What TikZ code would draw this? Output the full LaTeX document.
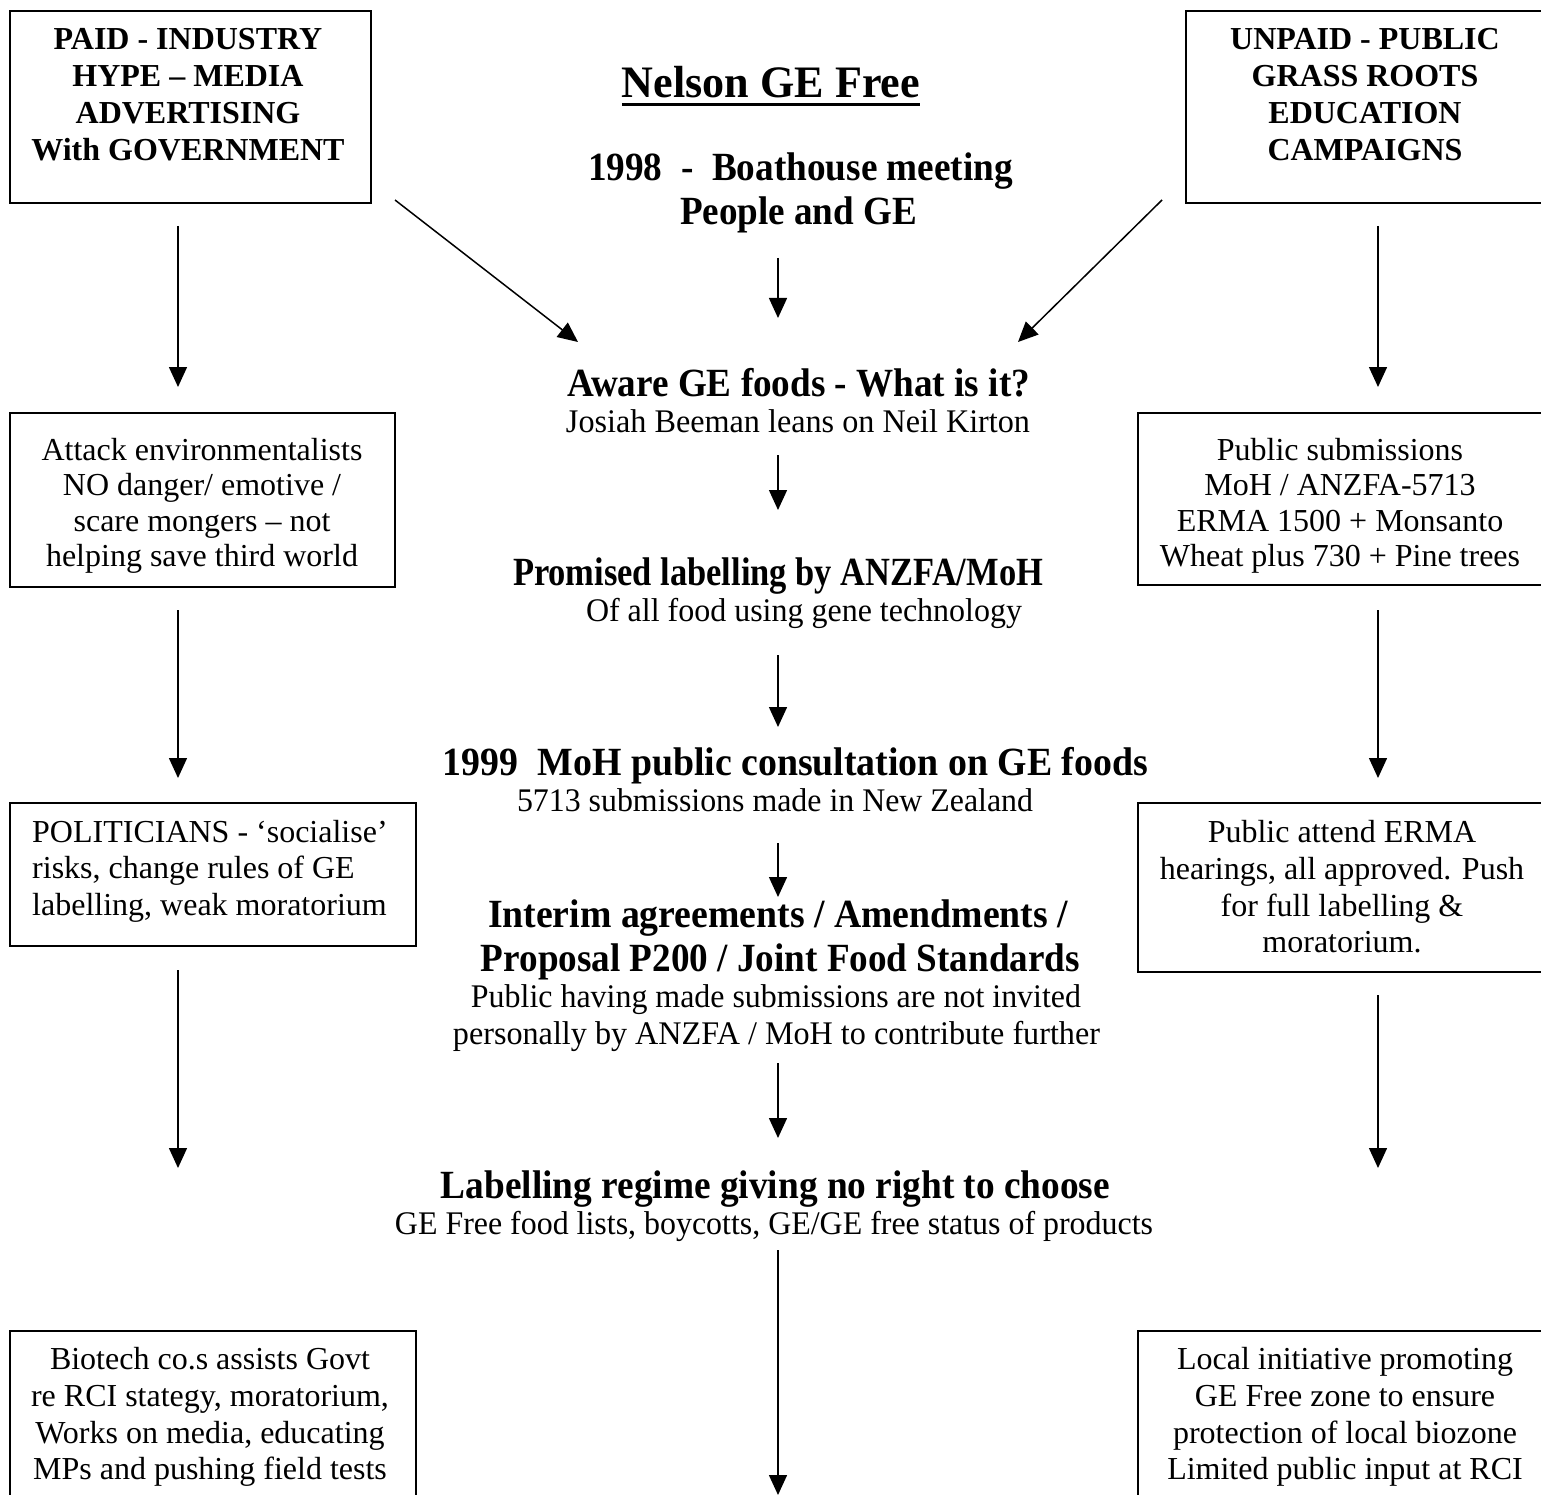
\documentclass[tikz,border=0pt]{standalone}
\usepackage{fontspec}
\setmainfont{Liberation Serif}
\usepackage{graphicx}
\usetikzlibrary{arrows.meta}
\newcommand\hfit[2]{\resizebox{#1}{\height}{#2}}
\begin{document}
\begin{tikzpicture}[x=1pt,y=-1pt,
  boxn/.style={draw, line width=1.8pt, inner sep=0pt, anchor=north west},
  bt/.style={anchor=base, inner sep=0pt, font=\fontsize{32}{36}\selectfont\bfseries},
  rt/.style={anchor=base, inner sep=0pt, font=\fontsize{32}{36}\selectfont},
  rtl/.style={anchor=base west, inner sep=0pt, font=\fontsize{32}{36}\selectfont},
  cb/.style={anchor=base, inner sep=0pt, font=\fontsize{40}{44}\selectfont\bfseries},
  cr/.style={anchor=base, inner sep=0pt, font=\fontsize{33}{37}\selectfont},
  arr/.style={-{Triangle[length=20pt,width=18pt]}, line width=1.5pt}]
\useasboundingbox (0,0) rectangle (1541,1495);
\clip (0,0) rectangle (1541,1495);
\fill[white] (0,0) rectangle (1541,1495);

% ---- boxes ----
\node[boxn, minimum width=361pt, minimum height=192pt] (tlbox) at (9,10) {};
\node[boxn, minimum width=420pt, minimum height=192pt] (trbox) at (1185,10) {};
\node[boxn, minimum width=385pt, minimum height=174pt] (attbox) at (9,412) {};
\node[boxn, minimum width=450pt, minimum height=172pt] (subbox) at (1137,412) {};
\node[boxn, minimum width=406pt, minimum height=143pt] (polbox) at (9,802) {};
\node[boxn, minimum width=450pt, minimum height=169pt] (ermabox) at (1137,802) {};
\node[boxn, minimum width=406pt, minimum height=250pt] (biobox) at (9,1330) {};
\node[boxn, minimum width=450pt, minimum height=250pt] (locbox) at (1137,1330) {};

% ---- top-left box text ----
\node[bt] (tl1) at (188,50) {PAID - INDUSTRY};
\node[bt] (tl2) at (188,87) {HYPE – MEDIA};
\node[bt] (tl3) at (188,124) {ADVERTISING};
\node[bt] (tl4) at (188,161) {With GOVERNMENT};

% ---- top-right box text ----
\node[bt] (tr1) at (1365,50) {UNPAID - PUBLIC};
\node[bt] (tr2) at (1365,87) {GRASS ROOTS};
\node[bt] (tr3) at (1365,124) {EDUCATION};
\node[bt] (tr4) at (1365,161) {CAMPAIGNS};

% ---- left column ----
\node[rt] (at1) at (202,460) {Attack environmentalists};
\node[rt] (at2) at (202,495.5) {NO danger/ emotive /};
\node[rt] (at3) at (202,531) {scare mongers – not};
\node[rt] (at4) at (202,566.5) {helping save third world};

\node[rtl] (po1) at (32,842) {POLITICIANS - ‘socialise’};
\node[rtl] (po2) at (32,878.5) {risks, change rules of GE};
\node[rtl] (po3) at (32,915) {labelling, weak moratorium};

\node[rt] (bi1) at (210,1369) {Biotech co.s assists Govt};
\node[rt] (bi2) at (210,1406) {re RCI stategy, moratorium,};
\node[rt] (bi3) at (210,1443) {Works on media, educating};
\node[rt] (bi4) at (210,1479) {MPs and pushing field tests};

% ---- right column ----
\node[rt] (su1) at (1340,460) {Public submissions};
\node[rt] (su2) at (1340,495.5) {MoH / ANZFA-5713};
\node[rt] (su3) at (1340,531) {ERMA 1500 + Monsanto};
\node[rt] (su4) at (1340,566.5) {Wheat plus 730 + Pine trees};

\node[rt] (er1) at (1342,842) {Public attend ERMA};
\node[rt] (er2) at (1342,879) {hearings, all approved. Push};
\node[rt] (er3) at (1342,916) {for full labelling \&};
\node[rt] (er4) at (1342,952) {moratorium.};

\node[rt] (lo1) at (1345,1369) {Local initiative promoting};
\node[rt] (lo2) at (1345,1406) {GE Free zone to ensure};
\node[rt] (lo3) at (1345,1443) {protection of local biozone};
\node[rt] (lo4) at (1345,1479) {Limited public input at RCI};

% ---- centre column ----
\node[anchor=base, inner sep=0pt, font=\fontsize{45}{50}\selectfont\bfseries] (title) at (771,98) {\hfit{298pt}{Nelson GE Free}};
\draw[line width=3pt] ([yshift=-7pt]title.base west) -- ([yshift=-7pt]title.base east);
\node[cb] (c1a) at (800.5,181) {\hfit{425pt}{1998\ \ -\ \ Boathouse meeting}};
\node[cb] (c1b) at (798.5,225) {\hfit{237pt}{People and GE}};
\node[cb] (c2a) at (798.5,396) {\hfit{463pt}{Aware GE foods - What is it?}};
\node[cr] (c2b) at (798,432) {\hfit{464pt}{Josiah Beeman leans on Neil Kirton}};
\node[cb] (c3a) at (778,585) {\hfit{530pt}{Promised labelling by ANZFA/MoH}};
\node[cr] (c3b) at (804,621) {\hfit{436pt}{Of all food using gene technology}};
\node[cb] (c4a) at (795.5,775) {\hfit{705pt}{1999\ \ MoH public consultation on GE foods}};
\node[cr] (c4b) at (775,811) {\hfit{516pt}{5713 submissions made in New Zealand}};
\node[cb] (c5a) at (778,927) {\hfit{580pt}{Interim agreements / Amendments /}};
\node[cb] (c5b) at (780.5,971) {\hfit{599pt}{Proposal P200 / Joint Food Standards}};
\node[cr] (c5c) at (776,1007) {\hfit{610pt}{Public having made submissions are not invited}};
\node[cr] (c5d) at (776.5,1044) {\hfit{647pt}{personally by ANZFA / MoH to contribute further}};
\node[cb] (c6a) at (775.5,1198) {\hfit{669pt}{Labelling regime giving no right to choose}};
\node[cr] (c6b) at (774,1234) {\hfit{758pt}{GE Free food lists, boycotts, GE/GE free status of products}};

% ---- arrow end points ----
\coordinate (l1s) at (178,226);  \coordinate (l1e) at (178,387);
\coordinate (l2s) at (178,610);  \coordinate (l2e) at (178,778);
\coordinate (l3s) at (178,970);  \coordinate (l3e) at (178,1168);
\coordinate (r1s) at (1378,226); \coordinate (r1e) at (1378,387);
\coordinate (r2s) at (1378,610); \coordinate (r2e) at (1378,778);
\coordinate (r3s) at (1378,995); \coordinate (r3e) at (1378,1168);
\coordinate (m1s) at (778,258);  \coordinate (m1e) at (778,318);
\coordinate (m2s) at (778,455);  \coordinate (m2e) at (778,510);
\coordinate (m3s) at (778,655);  \coordinate (m3e) at (778,727);
\coordinate (m4s) at (778,843);  \coordinate (m4e) at (778,897);
\coordinate (m5s) at (778,1063); \coordinate (m5e) at (778,1138);
\coordinate (m6s) at (778,1250); \coordinate (m6e) at (778,1495);
\coordinate (dls) at (395,200);  \coordinate (dle) at (578,342);
\coordinate (drs) at (1162,200); \coordinate (dre) at (1018,342);

\draw[arr] (l1s) -- (l1e);
\draw[arr] (l2s) -- (l2e);
\draw[arr] (l3s) -- (l3e);
\draw[arr] (r1s) -- (r1e);
\draw[arr] (r2s) -- (r2e);
\draw[arr] (r3s) -- (r3e);
\draw[arr] (m1s) -- (m1e);
\draw[arr] (m2s) -- (m2e);
\draw[arr] (m3s) -- (m3e);
\draw[arr] (m4s) -- (m4e);
\draw[arr] (m5s) -- (m5e);
\draw[arr] (m6s) -- (m6e);
\draw[arr] (dls) -- (dle);
\draw[arr] (drs) -- (dre);
\end{tikzpicture}
\end{document}
